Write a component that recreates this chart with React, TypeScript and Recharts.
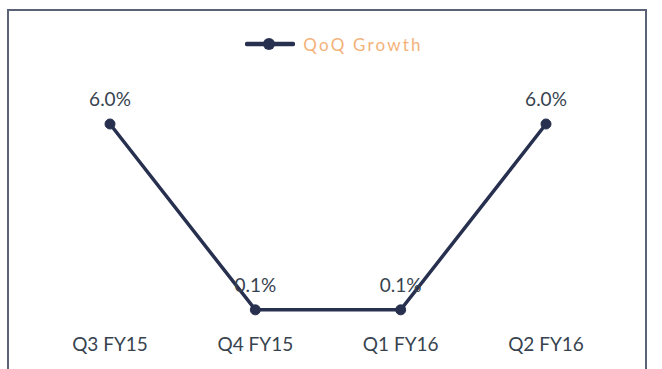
import React from 'react';
import { LineChart, Line, XAxis, YAxis, Legend, LabelList } from 'recharts';

const quarters = ['Q3 FY15', 'Q4 FY15', 'Q1 FY16', 'Q2 FY16'];
const qoqGrowth = [6.0, 0.1, 0.1, 6.0];

const data = quarters.map((q, i) => ({ quarter: q, growth: qoqGrowth[i] }));

const NAVY = '#28304f';
const TEXT = '#37434f';
const FONT = 'Lato, "Open Sans", sans-serif';

const LegendContent = () => (
  <div style={{ display: 'flex', alignItems: 'center', justifyContent: 'center', fontFamily: FONT, height: 20 }}>
    <svg width={50} height={16} style={{ marginRight: 8 }}>
      <line x1={2} y1={8} x2={48} y2={8} stroke={NAVY} strokeWidth={4.5} strokeLinecap="round" />
      <circle cx={24} cy={8} r={6} fill={NAVY} />
    </svg>
    <span style={{ color: '#f3b27a', fontSize: 17, letterSpacing: 2.2 }}>QoQ Growth</span>
  </div>
);

export default function App() {
  return (
    <div style={{ position: 'absolute', left: 0, top: 0, width: 662, height: 369, background: '#fff', overflow: 'hidden' }}>
      <div
        style={{
          position: 'absolute',
          left: 7,
          top: 9,
          width: 640,
          height: 380,
          border: '2px solid #5c6276',
          boxSizing: 'border-box',
        }}
      />
      <div style={{ position: 'absolute', left: 0, top: 0 }}>
        <LineChart width={662} height={369} data={data} margin={{ top: 104, right: 116, left: 110, bottom: 0 }}>
          <XAxis
            dataKey="quarter"
            axisLine={false}
            tickLine={false}
            tickMargin={19}
            height={56}
            interval={0}
            tick={{ fontSize: 19, fill: TEXT, fontFamily: FONT }}
          />
          <YAxis hide domain={[0, 6]} />
          <Legend
            verticalAlign="top"
            content={<LegendContent />}
            wrapperStyle={{ position: 'absolute', top: 34, left: 3, width: 662, height: 20 }}
          />
          <Line
            type="linear"
            dataKey="growth"
            stroke={NAVY}
            strokeWidth={3.5}
            dot={{ r: 5, fill: NAVY, stroke: NAVY, strokeWidth: 1 }}
            isAnimationActive={false}
          >
            <LabelList
              dataKey="growth"
              position="top"
              offset={18}
              formatter={(v: any) => `${Number(v).toFixed(1)}%`}
              style={{ fontSize: 19, fill: TEXT, fontFamily: FONT }}
            />
          </Line>
        </LineChart>
      </div>
    </div>
  );
}
